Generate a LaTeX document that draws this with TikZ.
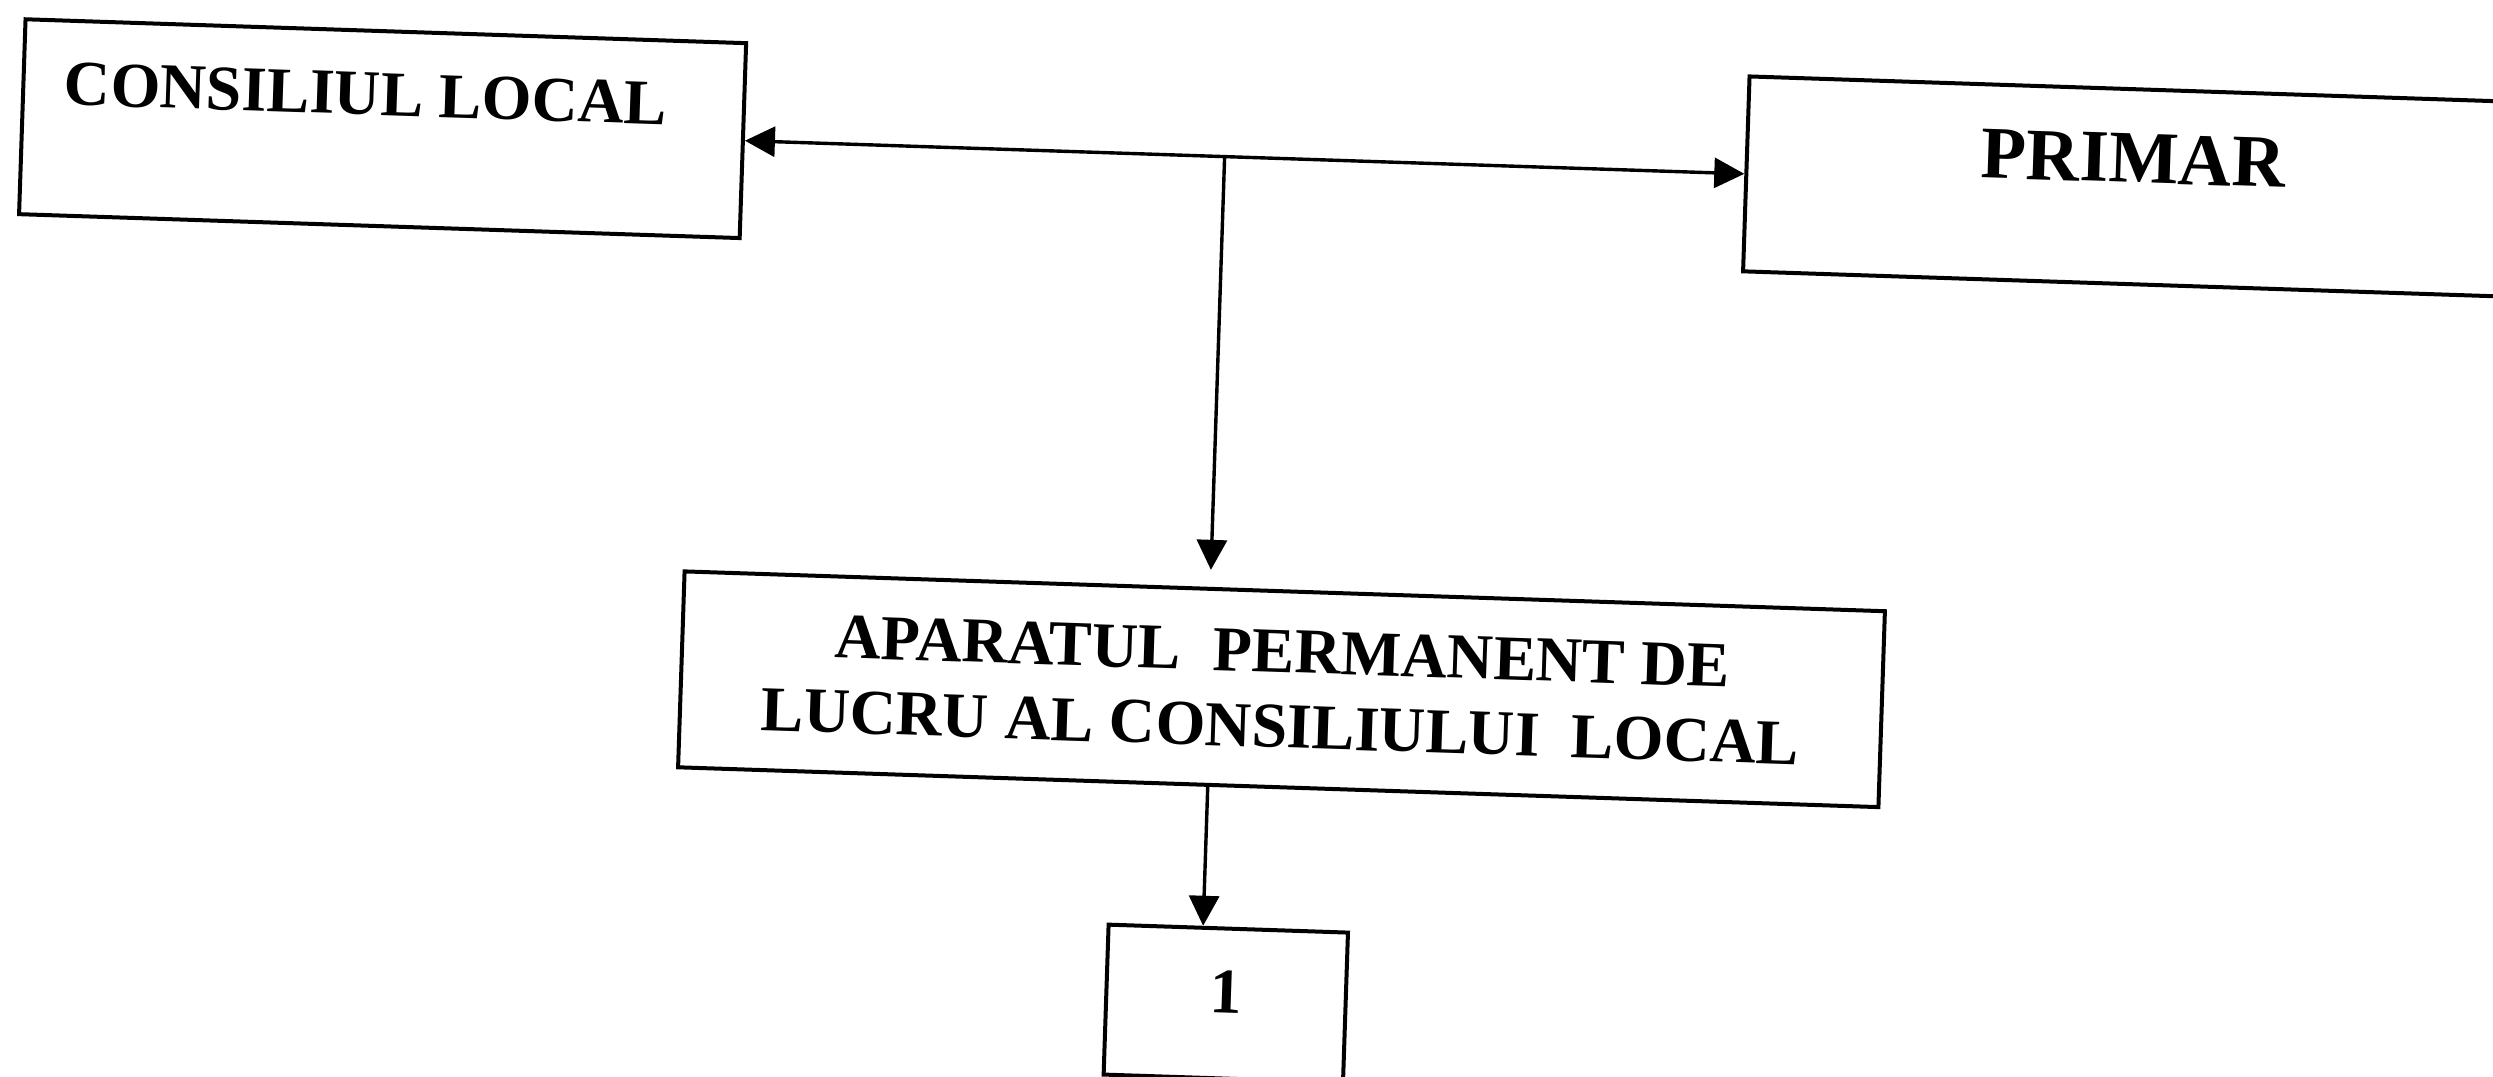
\documentclass[tikz,border=0pt]{standalone}
\usepackage{fontspec}
\setmainfont{Liberation Serif}
\usetikzlibrary{arrows.meta}
\begin{document}
\begin{tikzpicture}[x=0.5pt,y=0.5pt,
  boxnode/.style={draw, line width=2pt, inner sep=0pt},
  conn/.style={line width=1.7pt},
  tipend/.style={-{Triangle[length=15pt,width=15pt]}},
  tipboth/.style={{Triangle[length=15pt,width=15pt]}-{Triangle[length=15pt,width=15pt]}},
  txt/.style={font=\fontsize{32}{37.6}\selectfont\bfseries, inner sep=0pt},
  bigtxt/.style={font=\fontsize{37}{42}\selectfont\bfseries, inner sep=0pt}
]
\fill[white] (-1246,-538) rectangle (1247,538);
\useasboundingbox (-1246,-538) rectangle (1247,538);
\begin{scope}[rotate=-1.9, transform shape]
  % boxes
  \node[boxnode, minimum width=360.5pt, minimum height=97.5pt] (cl) at (-876.5,380.5) {};
  \node[txt, anchor=base] (cltext) at (-894.5,394) {CONSILIUL LOCAL};
  \node[boxnode, minimum width=450pt, minimum height=97.5pt] (pr) at (938,380.5) {};
  \node[bigtxt, anchor=base] (prtext) at (874.5,384.5) {PRIMAR};
  \node[boxnode, txt, align=center, minimum width=600.5pt, minimum height=98pt] (ap) at (40.5,-150)
    {APARATUL\ \ PERMANENT DE\\LUCRU AL CONSILIULUI\ \ LOCAL};
  \node[boxnode, minimum width=119.75pt, minimum height=75pt] (n1) at (-4.75,-466) {};
  \node[txt, anchor=base] (n1text) at (-5,-475.4) {1};
  % connectors
  \draw[conn, tipboth] (cl.east) -- (pr.west);
  \coordinate (j) at (-34,380.5);
  \draw[conn, tipend, shorten >=8.5pt] (j) -- (j |- ap.north);
  \coordinate (k) at (-30,0);
  \draw[conn, tipend] (k |- ap.south) -- (k |- n1.north);
\end{scope}
\end{tikzpicture}
\end{document}
